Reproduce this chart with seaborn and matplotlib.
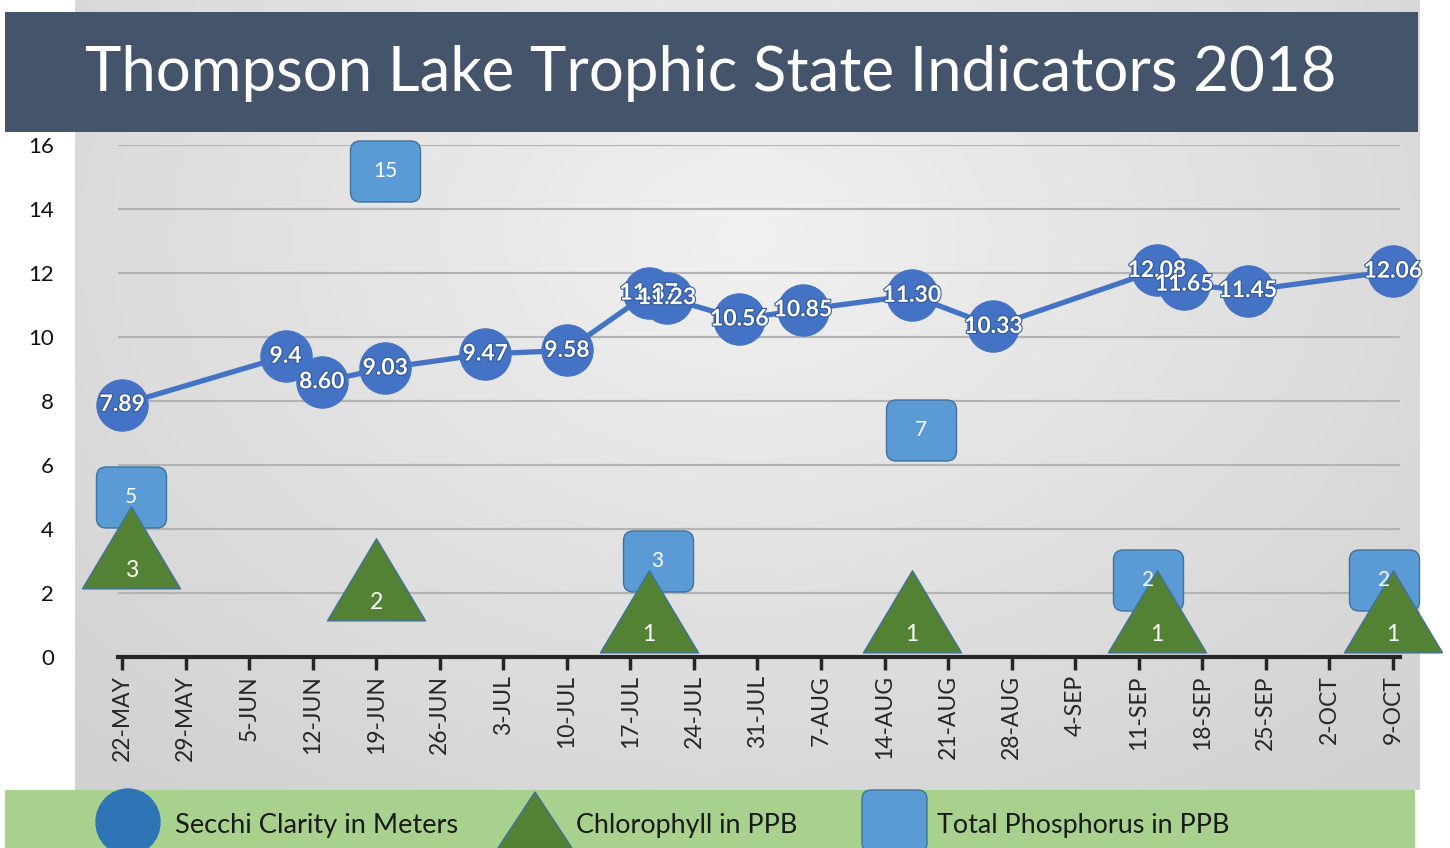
import numpy as np
import pandas as pd
import matplotlib
matplotlib.use("Agg")
import matplotlib.pyplot as plt
import seaborn as sns
from matplotlib.patches import FancyBboxPatch, Rectangle, Ellipse, Polygon, BoxStyle
from matplotlib.path import Path
import matplotlib.patheffects as pe

# ---------------- data ----------------
secchi_dates = ["2018-05-22", "2018-06-09", "2018-06-13", "2018-06-20", "2018-07-01",
                "2018-07-10", "2018-07-19", "2018-07-21", "2018-07-29", "2018-08-05",
                "2018-08-17", "2018-08-26", "2018-09-13", "2018-09-16", "2018-09-23",
                "2018-10-09"]
secchi_vals = [7.89, 9.4, 8.60, 9.03, 9.47, 9.58, 11.37, 11.23, 10.56, 10.85,
               11.30, 10.33, 12.08, 11.65, 11.45, 12.06]
secchi_labels = ["7.89", "9.4", "8.60", "9.03", "9.47", "9.58", "11.37", "11.23",
                 "10.56", "10.85", "11.30", "10.33", "12.08", "11.65", "11.45", "12.06"]

chl_dates = ["2018-05-23", "2018-06-19", "2018-07-19", "2018-08-17", "2018-09-13", "2018-10-09"]
chl_vals = [3, 2, 1, 1, 1, 1]
chl_labels = ["3", "2", "1", "1", "1", "1"]

phos_dates = ["2018-05-23", "2018-06-20", "2018-07-20", "2018-08-18", "2018-09-12", "2018-10-08"]
phos_vals = [5, 15.2, 3, 7.1, 2.4, 2.4]
phos_labels = ["5", "15", "3", "7", "2", "2"]

tick_labels = ["22-MAY", "29-MAY", "5-JUN", "12-JUN", "19-JUN", "26-JUN", "3-JUL",
               "10-JUL", "17-JUL", "24-JUL", "31-JUL", "7-AUG", "14-AUG", "21-AUG",
               "28-AUG", "4-SEP", "11-SEP", "18-SEP", "25-SEP", "2-OCT", "9-OCT"]
y_ticks = [0, 2, 4, 6, 8, 10, 12, 14, 16]

title = "Thompson Lake Trophic State Indicators 2018"
legend_names = ["Secchi Clarity in Meters", "Chlorophyll in PPB", "Total Phosphorus in PPB"]

# ---------------- frames ----------------
secchi = pd.DataFrame({"date": pd.to_datetime(secchi_dates), "value": secchi_vals,
                       "label": secchi_labels})
chl = pd.DataFrame({"date": pd.to_datetime(chl_dates), "value": chl_vals, "label": chl_labels})
phos = pd.DataFrame({"date": pd.to_datetime(phos_dates), "value": phos_vals, "label": phos_labels})
tick_dates = pd.date_range("2018-05-22", periods=len(tick_labels), freq="7D")

sns.set_theme(style="white")
plt.rcParams["font.family"] = ["Lato", "DejaVu Sans"]

W, H = 1450, 848
fig = plt.figure(figsize=(W / 100, H / 100), dpi=100)

# ---------------- background layer (pixel coords) ----------------
bg = fig.add_axes([0, 0, 1, 1], zorder=0)
bg.set_xlim(0, W)
bg.set_ylim(H, 0)
bg.axis("off")

# radial gray gradient panel
gx = np.linspace(0, 1, 300)
gy = np.linspace(0, 1, 200)
GX, GY = np.meshgrid(gx, gy)
r = np.sqrt(((GX - 0.5) / 0.72) ** 2 + ((GY - 0.3) / 0.9) ** 2)
r = np.clip(r, 0, 1)
c0 = np.array([0.945, 0.945, 0.945])
c1 = np.array([0.82, 0.82, 0.82])
img = c0[None, None, :] * (1 - r[..., None]) + c1[None, None, :] * r[..., None]
bg.imshow(img, extent=(75, 1420, 790, 0), aspect="auto", zorder=0, interpolation="bilinear")

# title banner
bg.add_patch(Rectangle((5, 12), 1413, 120, facecolor="#44546A", edgecolor="none", zorder=2))
t = bg.text(85, 74, title, color="white", fontsize=48, ha="left", va="center", zorder=3)
fig.canvas.draw()
bb = t.get_window_extent()
t.set_fontsize(48 * 1253 / bb.width)

# legend band
bg.add_patch(Rectangle((5, 790), 1410, 58, facecolor="#A9D18E", edgecolor="none", zorder=2))
bg.add_patch(Ellipse((128, 822), 64, 66, facecolor="#2E75B6", edgecolor="#2E75B6", zorder=3))
bg.add_patch(Polygon([[535, 792], [498, 848], [572, 848]], closed=True,
                     facecolor="#548235", edgecolor="#41719C", lw=1, zorder=3))
bg.add_patch(FancyBboxPatch((862, 790), 65, 62, boxstyle="round,pad=0,rounding_size=9",
                            facecolor="#5B9BD5", edgecolor="#41719C", lw=1, zorder=3))
leg_x = [175, 576, 937]
leg_w = [283, 221, 292]
for x0, wd, name in zip(leg_x, leg_w, legend_names):
    tt = bg.text(x0, 826, name, color="#1a1a1a", fontsize=18, ha="left", va="center", zorder=4)
    fig.canvas.draw()
    b = tt.get_window_extent()
    tt.set_fontsize(18 * wd / b.width)

# ---------------- main chart ----------------
left, right = 118 / W, 1400 / W
bottom, top = (H - 657) / H, (H - 145) / H
ax = fig.add_axes([left, bottom, right - left, top - bottom], zorder=2)
ax.set_facecolor("none")

# marker shapes
tri_marker = Path([(0, 1.0), (-0.896, -0.5), (0.896, -0.5), (0, 1.0)],
                  [Path.MOVETO, Path.LINETO, Path.LINETO, Path.CLOSEPOLY])
sq_patch = FancyBboxPatch((-0.5, -0.4357), 1.0, 0.8714,
                          boxstyle=BoxStyle.Round(pad=0, rounding_size=0.14))
sq_marker = sq_patch.get_path()

sns.scatterplot(data=phos, x="date", y="value", marker=sq_marker, s=50.4 ** 2,
                color="#5B9BD5", edgecolor="#41719C", linewidth=1.0, zorder=3,
                clip_on=False, legend=False, ax=ax)
sns.scatterplot(data=chl, x="date", y="value", marker=tri_marker, s=78.8 ** 2,
                color="#548235", edgecolor="#41719C", linewidth=1.0, zorder=4,
                clip_on=False, legend=False, ax=ax)
sns.lineplot(data=secchi, x="date", y="value", color="#4472C4", lw=3.8,
             marker="o", markersize=37, markeredgecolor="#4472C4",
             markerfacecolor="#4472C4", zorder=5, clip_on=False, legend=False,
             estimator=None, sort=False, ax=ax)

for d, v, lab in zip(secchi["date"], secchi["value"], secchi["label"]):
    ax.text(d, v, lab, ha="center", va="center", color="white", fontsize=16.5,
            fontweight="bold", zorder=7,
            path_effects=[pe.withStroke(linewidth=1.5, foreground="#2F5597")])
for d, v, lab in zip(phos["date"], phos["value"], phos["label"]):
    ax.text(d, v, lab, ha="center", va="center", color="white", fontsize=15, zorder=6)
for d, v, lab in zip(chl["date"], chl["value"], chl["label"]):
    ax.annotate(lab, (d, v), xytext=(0, -7), textcoords="offset points",
                ha="center", va="center", color="white", fontsize=16.5, zorder=6)

ax.set_xlim(pd.Timestamp("2018-05-22") - pd.Timedelta(hours=11),
            pd.Timestamp("2018-10-09") + pd.Timedelta(hours=19))
ax.set_ylim(0, 16)
ax.set_yticks(y_ticks)
ax.set_yticklabels([str(v) for v in y_ticks], fontsize=16, color="#111111")
ax.set_xticks(tick_dates)
ax.set_xticklabels(tick_labels, rotation=90, fontsize=16.5, color="#262626")
ax.tick_params(axis="y", length=0, pad=46, left=False)
ax.tick_params(axis="x", bottom=True, length=9, width=2.5, color="#262626",
               direction="out", pad=4)
ax.set_xlabel("")
ax.set_ylabel("")
ax.yaxis.grid(True, color="#b3b3b3", lw=1.6)
ax.xaxis.grid(False)
ax.set_axisbelow(True)
for s in ["left", "top", "right"]:
    ax.spines[s].set_visible(False)
ax.spines["bottom"].set_color("#262626")
ax.spines["bottom"].set_linewidth(3)

fig.savefig("out.png", dpi=100)
